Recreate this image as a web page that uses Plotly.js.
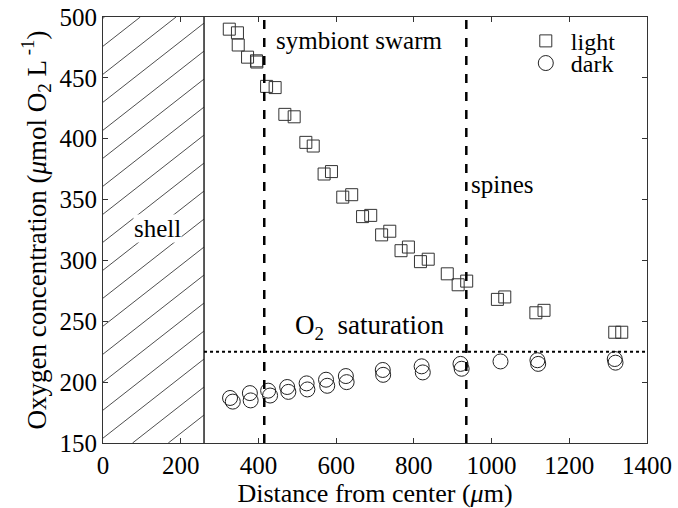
<!DOCTYPE html>
<html>
<head>
<meta charset="utf-8">
<script src="https://cdn.plot.ly/plotly-3.0.1.min.js"></script>
<style>html,body{margin:0;padding:0;background:#fff;}#chart{width:678px;height:508px;}</style>
</head>
<body>
<div id="chart"></div>
<script>
// ---- data ----
var lightX = [325, 346, 348, 372, 395, 396, 421, 443, 468, 492, 522, 541, 569, 588, 617, 640, 668, 689, 717, 738, 767, 786, 817, 837, 886, 914, 936, 1015, 1034, 1114, 1135, 1317, 1335];
var lightY = [490, 487, 477, 467, 464, 463, 443, 442, 420, 418, 397, 394, 371, 373, 352, 354, 336, 337, 321, 324, 308, 311, 299, 301, 289, 280, 283, 268, 270, 257, 259, 241, 241];
var darkX = [327, 334, 378, 380, 425, 430, 474, 477, 524, 526, 574, 577, 625, 627, 720, 721, 820, 823, 920, 923, 1023, 1118, 1120, 1317, 1319];
var darkY = [187, 184, 191, 185, 193, 189, 196, 192, 199, 194, 202, 197, 205, 200, 210, 206, 213, 208, 215, 211, 217, 218, 215, 219, 216];
var seriesNames = ['light', 'dark'];

// region boundaries (µm) and saturation level
var shellEdge = 260;
var swarmEdge = 415;
var spineEdge = 935;
var saturation = 225;

var xTicks = [0, 200, 400, 600, 800, 1000, 1200, 1400];
var yTicks = [150, 200, 250, 300, 350, 400, 450, 500];
var xRange = [0, 1400];
var yRange = [150, 500];

// ---- hatching of the shell region (decoration) ----
var hatchSlope = 0.25, hatchStep = 92;
var hx = [], hy = [];
for (var x0 = shellEdge; x0 > -(yRange[1] - yRange[0]) / hatchSlope - hatchStep; x0 -= hatchStep) {
  var xs = Math.max(0, x0);
  var xe = Math.min(shellEdge, x0 + (yRange[1] - yRange[0]) / hatchSlope);
  if (xe <= xs) continue;
  hx.push(xs, xe, null);
  hy.push(yRange[0] + hatchSlope * (xs - x0), yRange[0] + hatchSlope * (xe - x0), null);
}

var serif = 'Liberation Serif, Times New Roman, serif';
var traces = [
  {x: hx, y: hy, mode: 'lines', line: {color: '#222', width: 0.8}, hoverinfo: 'skip', showlegend: false},
  {x: lightX, y: lightY, name: seriesNames[0], mode: 'markers', type: 'scatter', legend: 'legend',
   marker: {symbol: 'square-open', size: 12, color: '#333', line: {width: 1, color: '#333'}}},
  {x: darkX, y: darkY, name: seriesNames[1], mode: 'markers', type: 'scatter', legend: 'legend2',
   marker: {symbol: 'circle-open', size: 15, color: '#222', line: {width: 1, color: '#222'}}}
];

var legendFont = {family: serif, size: 24, color: '#000'};
var layout = {
  width: 678, height: 508,
  margin: {l: 103, r: 31, t: 17, b: 65},
  paper_bgcolor: '#fff', plot_bgcolor: '#fff',
  font: {family: serif, size: 25, color: '#000'},
  showlegend: true,
  legend: {x: 0.768, y: 0.943, xanchor: 'left', yanchor: 'middle', bgcolor: 'rgba(0,0,0,0)', font: legendFont, itemwidth: 40},
  legend2: {x: 0.768, y: 0.891, xanchor: 'left', yanchor: 'middle', bgcolor: 'rgba(0,0,0,0)', font: legendFont, itemwidth: 40},
  xaxis: {range: xRange, tickvals: xTicks, ticktext: xTicks.map(String), ticks: 'inside', ticklen: 5,
          showline: true, mirror: 'ticks', linecolor: '#333', linewidth: 1, tickcolor: '#333',
          showgrid: false, zeroline: false, tickfont: {family: serif, size: 25},
          title: {text: 'Distance from center (<i>μ</i>m)', font: {family: serif, size: 26}, standoff: 2}},
  yaxis: {range: yRange, tickvals: yTicks, ticktext: yTicks.map(String), ticks: 'inside', ticklen: 5,
          showline: true, mirror: 'ticks', linecolor: '#333', linewidth: 1, tickcolor: '#333',
          showgrid: false, zeroline: false, tickfont: {family: serif, size: 25},
          title: {text: 'Oxygen concentration (<i>μ</i>mol O<sub>2</sub> L<sup> -1</sup>)', font: {family: serif, size: 27}, standoff: 5}},
  shapes: [
    {type: 'line', xref: 'x', yref: 'y', x0: shellEdge, x1: shellEdge, y0: yRange[0], y1: yRange[1], line: {color: '#222', width: 1.5}},
    {type: 'line', xref: 'x', yref: 'y', x0: swarmEdge, x1: swarmEdge, y0: yRange[0], y1: yRange[1], line: {color: '#000', width: 2.5, dash: 'dash'}},
    {type: 'line', xref: 'x', yref: 'y', x0: spineEdge, x1: spineEdge, y0: yRange[0], y1: yRange[1], line: {color: '#000', width: 2.5, dash: 'dash'}},
    {type: 'line', xref: 'x', yref: 'y', x0: shellEdge, x1: xRange[1], y0: saturation, y1: saturation, line: {color: '#000', width: 2, dash: 'dot'}}
  ],
  annotations: [
    {x: 440, y: 481, xref: 'x', yref: 'y', text: 'symbiont swarm', showarrow: false, xanchor: 'left', font: {family: serif, size: 25}},
    {x: 1029, y: 362, xref: 'x', yref: 'y', text: 'spines', showarrow: false, font: {family: serif, size: 25}},
    {x: 141, y: 326, xref: 'x', yref: 'y', text: 'shell', showarrow: false, font: {family: serif, size: 25}, bgcolor: '#fff', borderpad: 0},
    {x: 687, y: 245, xref: 'x', yref: 'y', text: 'O<sub>2</sub>  saturation', showarrow: false, font: {family: serif, size: 27}}
  ]
};

Plotly.newPlot('chart', traces, layout, {displayModeBar: false, staticPlot: true});
</script>
</body>
</html>
